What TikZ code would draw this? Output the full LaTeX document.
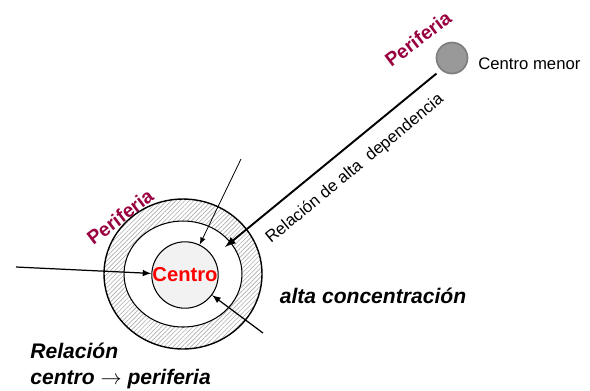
\documentclass[tikz,border=0pt]{standalone}
\usepackage{fontspec}
\setmainfont{Liberation Sans}
\usepackage{tkz-euclide}
\usetikzlibrary{patterns.meta}
\definecolor{periferia}{HTML}{990040}
\definecolor{menorgris}{HTML}{999999}
\definecolor{menorborde}{HTML}{7F7F7F}
\tikzset{
  anillo/.style={pattern={Lines[angle=45,distance=1.8pt,line width=0.35pt]},pattern color=black!32},
  flecha/.style={->,>=latex,black},
  rotulo/.style={font=\bfseries\itshape\fontsize{12}{14.5}\selectfont,inner sep=0pt},
  perif/.style={text=periferia,font=\bfseries\fontsize{11}{13}\selectfont,inner sep=0pt,rotate=37}
}
\begin{document}
\begin{tikzpicture}[x=0.02cm,y=-0.02cm]
	\useasboundingbox (0,0) rectangle (590,390);
	\tkzDefPoints{183/274/O,16/267/I,241/159/S,263/333/D,225/247/R,452/58/M}
	% anillo de la periferia
	\fill[anillo,even odd rule] (O) ellipse [x radius=1.58cm,y radius=1.5cm]
	  (O) ellipse [x radius=1.18cm,y radius=1.06cm];
	\draw[line width=0.8pt] (O) ellipse [x radius=1.58cm,y radius=1.5cm];
	\draw[line width=0.6pt] (O) ellipse [x radius=1.18cm,y radius=1.06cm];
	\node[circle,draw,line width=0.6pt,fill=black!5,minimum size=1.12cm,inner sep=0pt,
	  text=red,font=\bfseries\fontsize{11.5}{13}\selectfont] (centro) at (185,275) {Centro};
	\node[circle,draw=menorborde,line width=1pt,fill=menorgris,minimum size=0.62cm,inner sep=0pt] (menor) at (M) {};
	\node[anchor=west,inner sep=0pt,font=\fontsize{9.5}{11}\selectfont] (menortxt) at (478,64) {Centro menor};
	% relaciones
	\draw[flecha,line width=0.7pt] (I) -- (centro);
	\draw[flecha,line width=0.45pt] (S) -- (centro);
	\draw[flecha,line width=0.7pt] (D) -- (centro);
	\draw[flecha,line width=1.1pt] (menor.south west) ++(-4,4) coordinate (MS) -- (R);
	% textos
	\node[perif] (perif1) at (120,217) {Periferia};
	\node[perif] (perif2) at (418,39) {Periferia};
	\node[rotate=39.5,inner sep=0pt,font=\fontsize{9.5}{11}\selectfont] (dep) at (355,169) {Relación de alta\ \ dependencia};
	\node[rotulo] (conc) at (373,296) {alta concentración};
	\node[rotulo,anchor=west,align=left] (rel) at (30,366) {Relación\\centro $\rightarrow$ periferia};
\end{tikzpicture}
\end{document}
